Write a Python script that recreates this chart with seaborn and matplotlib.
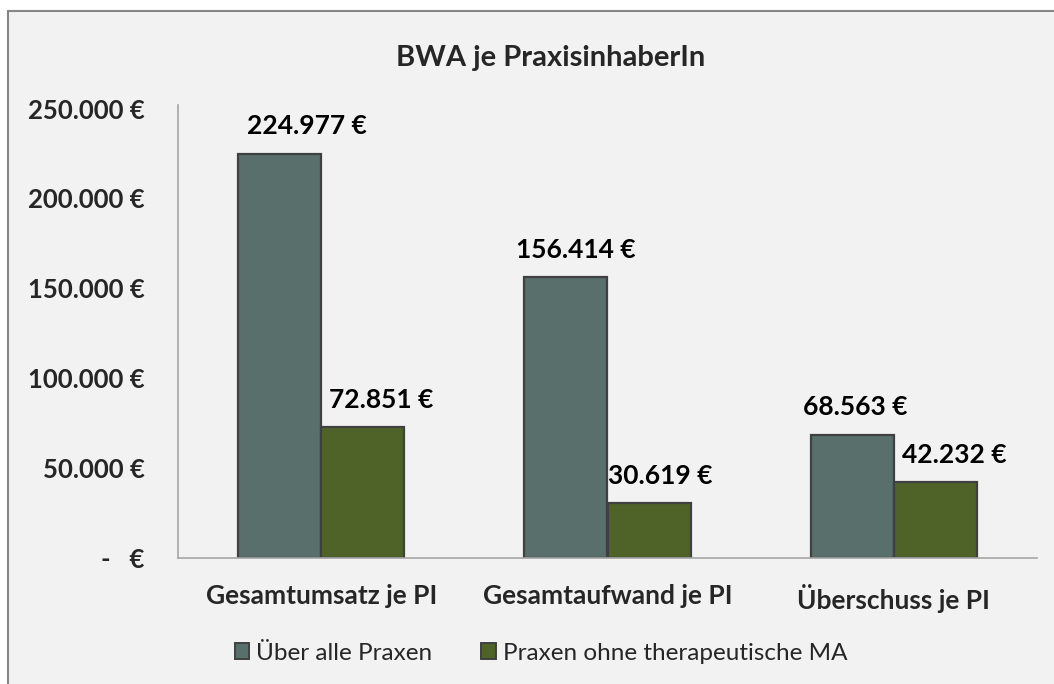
import matplotlib
matplotlib.use("Agg")
import matplotlib.pyplot as plt
import seaborn as sns
import pandas as pd
from matplotlib.patches import Rectangle, Patch

categories = ["Gesamtumsatz je PI", "Gesamtaufwand je PI", "Überschuss je PI"]
series_names = ["Über alle Praxen", "Praxen ohne therapeutische MA"]
alle_praxen = [224977, 156414, 68563]
ohne_ma = [72851, 30619, 42232]
yticks = [0, 50000, 100000, 150000, 200000, 250000]

# horizontal nudges of the value labels (points), per series and category
label_dx = [[20, 7, 2], [13, 8, 14]]

df = pd.DataFrame({
    "Kategorie": categories * 2,
    "Serie": [series_names[0]] * 3 + [series_names[1]] * 3,
    "Wert": alle_praxen + ohne_ma,
})

sns.set_theme(style="white")
plt.rcParams["font.family"] = ["Lato", "DejaVu Sans"]

bg = "#F2F2F2"
colors = ["#586F6C", "#4F6228"]

fig = plt.figure(figsize=(10.54, 6.84), dpi=100)
fig.patch.set_facecolor("white")
fig.patches.append(Rectangle((8 / 1054, -0.05), 1.1, 1 - 11 / 684 + 0.05,
                             transform=fig.transFigure, facecolor=bg,
                             edgecolor="#868686", linewidth=1.5, zorder=-10))

ax = fig.add_axes([178 / 1054, 1 - 558 / 684, (1037 - 178) / 1054, (558 - 105) / 684])
ax.set_facecolor(bg)
ax.patch.set_alpha(0)

sns.barplot(data=df, x="Kategorie", y="Wert", hue="Serie", palette=colors,
            width=0.58, edgecolor="#404040", linewidth=1.6, ax=ax,
            legend=False, saturation=1)

def fmt(v):
    return f"{int(round(v)):,}".replace(",", ".") + " €"

for si, cont in enumerate(ax.containers):
    for ci, b in enumerate(cont):
        ax.annotate(fmt(b.get_height()),
                    xy=(b.get_x() + b.get_width() / 2, b.get_height()),
                    xytext=(label_dx[si][ci], 11), textcoords="offset points",
                    ha="center", va="bottom", fontsize=19,
                    fontweight="bold", color="black")

ax.set_ylim(0, 252000)
ax.set_yticks(yticks)
ax.set_yticklabels([fmt(v) if v else "-   €" for v in yticks])
ax.tick_params(axis="y", length=0, pad=24, labelsize=18.5)
ax.tick_params(axis="x", length=0, pad=19, labelsize=19)
for lab in ax.get_xticklabels() + ax.get_yticklabels():
    lab.set_fontweight("bold")
ax.set_xlabel("")
ax.set_ylabel("")
ax.set_xlim(-0.5, 2.5)
for s in ["top", "right"]:
    ax.spines[s].set_visible(False)
ax.spines["left"].set_color("#A6A6A6")
ax.spines["bottom"].set_color("#A6A6A6")
ax.spines["left"].set_linewidth(1.2)
ax.spines["bottom"].set_linewidth(1.2)

fig.text(551 / 1054, 1 - 58 / 684, "BWA je PraxisinhaberIn", ha="center",
         va="center", fontsize=21, fontweight="bold")

handles = [Patch(facecolor=c, edgecolor="#404040", linewidth=1.4) for c in colors]
fig.legend(handles, series_names, loc="center", bbox_to_anchor=(541 / 1054, 1 - 653 / 684),
           ncol=2, frameon=False, fontsize=17.5, handlelength=0.6, handleheight=0.6,
           handletextpad=0.3, columnspacing=2.0)

fig.savefig("out.png", dpi=100, facecolor="white")
